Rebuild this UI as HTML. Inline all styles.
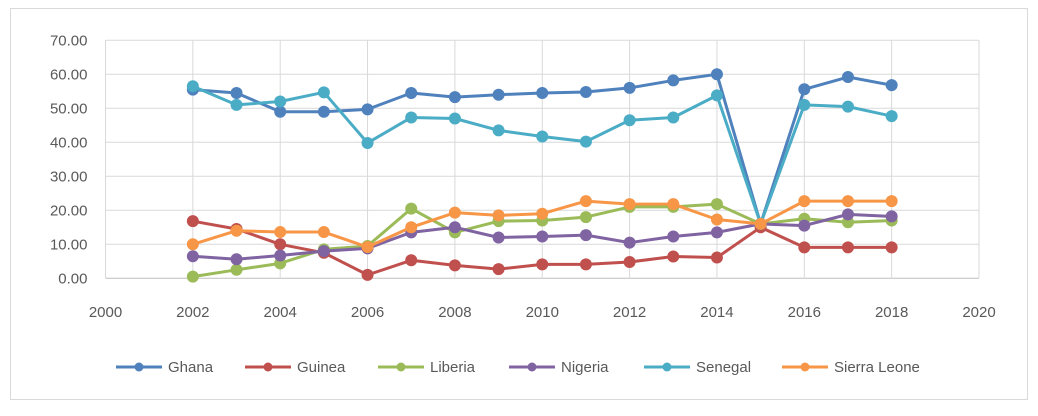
<!DOCTYPE html>
<html><head><meta charset="utf-8"><style>
body{margin:0;background:#fff;font-family:"Liberation Sans",sans-serif;}
svg text{font-family:"Liberation Sans",sans-serif;font-size:15px;fill:#595959;}
</style></head><body>
<svg id="chart" width="1038" height="411">
<rect x="10.5" y="8.5" width="1017" height="391" fill="#fff" stroke="#d9d9d9"/>
<g id="grid"></g><g id="series"></g><g id="legend"></g>
</svg>
<script>
const years=[2002,2003,2004,2005,2006,2007,2008,2009,2010,2011,2012,2013,2014,2015,2016,2017,2018];
const xTicks=[2000,2002,2004,2006,2008,2010,2012,2014,2016,2018,2020];
const yTicks=[0,10,20,30,40,50,60,70];
const names=["Ghana","Guinea","Liberia","Nigeria","Senegal","Sierra Leone"];
const colors=["#4f81bd","#c0504d","#9bbb59","#8064a2","#4bacc6","#f79646"];
const ghana=[55.5,54.5,49,49,49.7,54.5,53.3,54,54.5,54.8,56,58.2,60,16,55.6,59.2,56.8];
const guinea=[16.8,14.5,10,7.5,1,5.3,3.8,2.7,4.1,4.1,4.8,6.4,6.1,15,9.1,9.1,9.1];
const liberia=[0.5,2.5,4.4,8.5,9.5,20.5,13.5,16.8,17,18,21,21,21.8,16,17.5,16.5,17];
const nigeria=[6.5,5.6,6.7,8,8.8,13.5,15,12,12.3,12.7,10.5,12.3,13.5,16,15.5,18.8,18.2];
const senegal=[56.5,51,52,54.7,39.8,47.3,47,43.5,41.7,40.2,46.5,47.3,53.8,16,51,50.5,47.7];
const sierraLeone=[10,14,13.6,13.6,9.2,15,19.3,18.5,19,22.7,21.8,21.8,17.3,16,22.7,22.7,22.7];
const seriesData=[ghana,guinea,liberia,nigeria,senegal,sierraLeone];
const NS="http://www.w3.org/2000/svg";
const x0=105.5,x1=979,y0=278.3,y1=40.3;
const xs=v=>x0+(v-2000)/20*(x1-x0);
const ys=v=>y0-v/70*(y0-y1);
function mk(tag,attrs,parent){const e=document.createElementNS(NS,tag);for(const k in attrs)e.setAttribute(k,attrs[k]);parent.appendChild(e);return e;}
const grid=document.getElementById('grid');
yTicks.forEach(t=>{
  const l=mk('line',{x1:x0,x2:x1,y1:ys(t),y2:ys(t),stroke:t===0?'#bfbfbf':'#d9d9d9'},grid);
  
  
  const tx=mk('text',{x:x0-18,y:ys(t)+5,'text-anchor':'end'},grid);
  tx.textContent=t.toFixed(2);
  
  
});
xTicks.forEach(t=>{
  const l=mk('line',{x1:xs(t),x2:xs(t),y1:y1,y2:y0,stroke:'#d9d9d9'},grid);
  
  
  const tx=mk('text',{x:xs(t),y:317,'text-anchor':'middle'},grid);
  tx.textContent=t;
  
  
});
const sg=document.getElementById('series');
seriesData.forEach((d,i)=>{
  const g=mk('g',{},sg);
  
  
  mk('polyline',{points:d.map((v,j)=>xs(years[j])+','+ys(v)).join(' '),fill:'none',stroke:colors[i],'stroke-width':3,'stroke-linejoin':'round'},g);
  d.forEach((v,j)=>{
    const c=mk('circle',{cx:xs(years[j]),cy:ys(v),r:6,fill:colors[i]},g);
    
    
  });
});
const lg=document.getElementById('legend');
const lx=[116,245,378,509,644,782];
names.forEach((n,i)=>{
  const g=mk('g',{},lg);
  
  
  mk('line',{x1:lx[i],x2:lx[i]+46,y1:367,y2:367,stroke:colors[i],'stroke-width':3},g);
  mk('circle',{cx:lx[i]+23,cy:367,r:4.5,fill:colors[i]},g);
  const t=mk('text',{x:lx[i]+52,y:372},g);
  t.textContent=n;
});
</script>
</body></html>
